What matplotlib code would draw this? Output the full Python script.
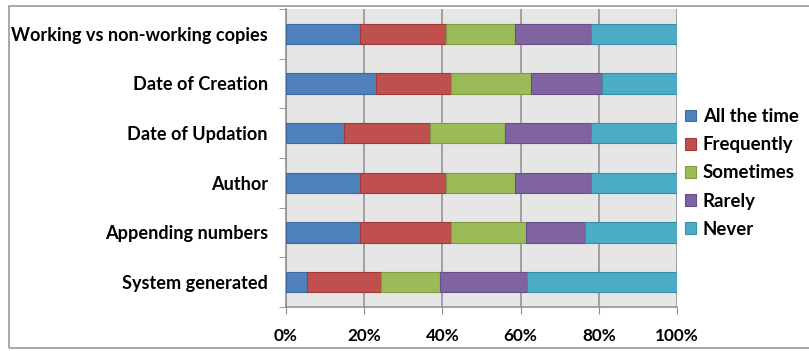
"""Stacked horizontal bar chart: how often file naming cues are used."""
import matplotlib
matplotlib.use("Agg")
import matplotlib.pyplot as plt
from matplotlib.patches import Rectangle
from matplotlib.ticker import FixedLocator

CATEGORIES = ["Working vs non-working copies", "Date of Creation", "Date of Updation",
              "Author", "Appending numbers", "System generated"]
SERIES = ["All the time", "Frequently", "Sometimes", "Rarely", "Never"]

# percent of respondents per category
ALL_THE_TIME = [18.9, 23.1, 14.9, 18.9, 18.9, 5.3]
FREQUENTLY = [21.9, 19.2, 21.9, 21.9, 23.4, 19.0]
SOMETIMES = [17.8, 20.4, 19.2, 17.8, 19.1, 15.1]
RARELY = [19.3, 18.0, 21.9, 19.3, 15.0, 22.2]
NEVER = [22.1, 19.3, 22.1, 22.1, 23.6, 38.4]

COLORS = ["#4F81BD", "#C0504D", "#9BBB59", "#8064A2", "#4BACC6"]
EDGES = ["#3f6a9c", "#9e3b38", "#7f9c45", "#664f86", "#3a8ea6"]

plt.rcParams["font.family"] = ["Lato", "DejaVu Sans"]
plt.rcParams["font.weight"] = "bold"

fig = plt.figure(figsize=(8.09, 3.51), dpi=100)
ax = fig.add_axes([286 / 809, 44 / 351, 391 / 809, 298 / 351])
ax.set_facecolor("#e6e6e6")

ypos = list(range(len(CATEGORIES)))
left = [0.0] * len(CATEGORIES)
for name, vals, col, edge in zip(SERIES, [ALL_THE_TIME, FREQUENTLY, SOMETIMES, RARELY, NEVER],
                                 COLORS, EDGES):
    ax.barh(ypos, vals, left=left, height=0.41, color=col, edgecolor=edge,
            linewidth=0.8, label=name, zorder=3)
    left = [l + v for l, v in zip(left, vals)]

ax.set_xlim(0, 100)
ax.set_ylim(len(CATEGORIES) - 0.5, -0.5)
ax.set_xticks([0, 20, 40, 60, 80, 100])
ax.set_xticklabels([f"{v}%" for v in [0, 20, 40, 60, 80, 100]], fontsize=12.3, fontweight="bold")
ax.set_yticks(ypos)
ax.set_yticklabels(CATEGORIES, fontsize=13.1, fontweight="bold")
ax.yaxis.set_minor_locator(FixedLocator([i - 0.5 for i in range(len(CATEGORIES) + 1)]))
ax.tick_params(axis="y", which="major", length=0, pad=13)
ax.tick_params(axis="y", which="minor", length=5, color="#8c8c8c", direction="out")
ax.tick_params(axis="x", length=5, color="#8c8c8c", pad=10)

ax.grid(axis="x", color="#8c8c8c", linewidth=1.1, zorder=1)
ax.set_axisbelow(True)
for side in ["top", "right"]:
    ax.spines[side].set_visible(False)
for side in ["left", "bottom"]:
    ax.spines[side].set_color("#8c8c8c")
    ax.spines[side].set_linewidth(1.1)

ax.legend(loc="upper left", bbox_to_anchor=(685 / 809, 1 - 108 / 351),
          bbox_transform=fig.transFigure, frameon=False, fontsize=13.4,
          handlelength=0.6, handleheight=0.6, handletextpad=0.35, labelspacing=0.6,
          borderaxespad=0, borderpad=0)

# thin grey frame round the whole chart (right edge runs off the picture)
fig.patches.append(Rectangle((9 / 809, 3 / 351), 810 / 809, 342 / 351, transform=fig.transFigure,
                             fill=False, edgecolor="#9a9a9a", linewidth=1.2))

fig.savefig("out.png", dpi=100)
